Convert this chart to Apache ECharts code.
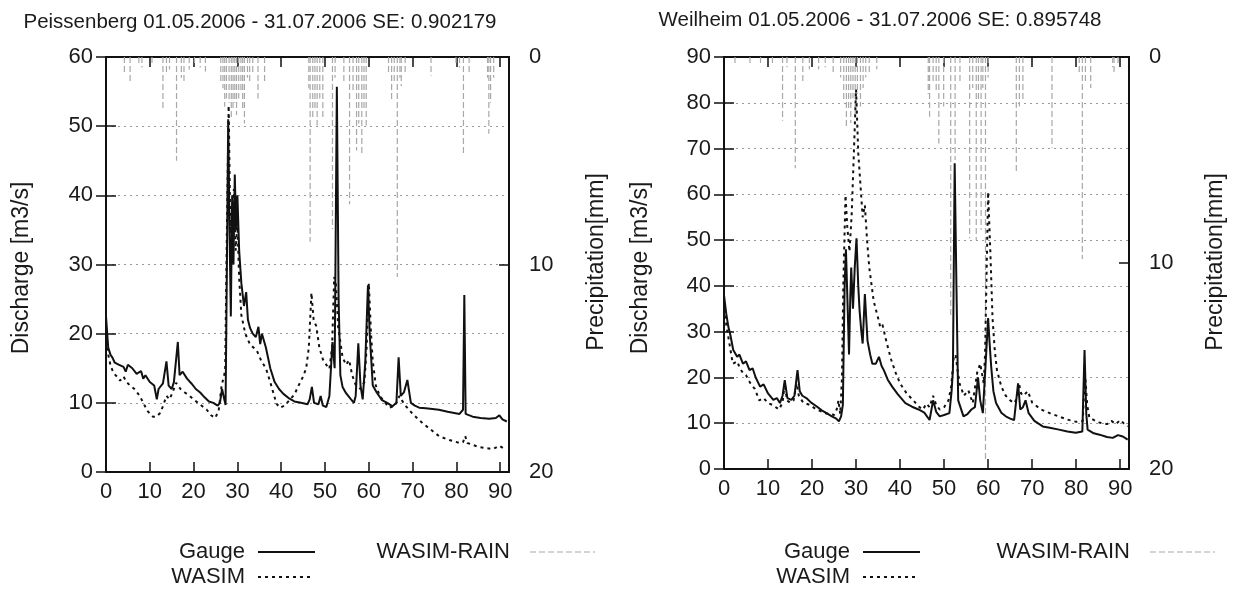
<!DOCTYPE html>
<html>
<head>
<meta charset="utf-8">
<script src="https://cdn.jsdelivr.net/npm/echarts@6/dist/echarts.min.js"></script>
<style>
html,body{margin:0;padding:0;background:#fff;}
#c{width:1236px;height:590px;}
</style>
</head>
<body>
<div id="c"></div>
<script>
// ---------- data ----------
const X_TICKS = [0,10,20,30,40,50,60,70,80,90];
const TITLE_LEFT = 'Peissenberg 01.05.2006 - 31.07.2006 SE: 0.902179';
const TITLE_RIGHT = 'Weilheim 01.05.2006 - 31.07.2006 SE: 0.895748';
const Y_NAME = 'Discharge [m3/s]';
const Y2_NAME = 'Precipitation[mm]';
const LEGEND_NAMES = ['Gauge','WASIM','WASIM-RAIN'];

// Peissenberg: [day, discharge m3/s]
const P_GAUGE = [[0,22.5],[0.5,18],[1,17],[1.5,16.5],[2,15.8],[3,15.5],[4,15.2],[4.5,14.5],[5,15.5],[6,15],[7,14.2],[8,14.6],[8.5,13.5],[9,14],[10,13],[11,12.5],[11.6,10.5],[12,12],[13,12.8],[13.8,16],[14.3,12.5],[15,12],[15.5,13],[16.4,18.8],[16.8,14],[17.5,14.5],[18.5,13.5],[19.5,12.8],[20.5,12],[21.5,11.5],[22.5,10.8],[23.5,10.2],[24.5,10],[25.5,9.6],[26,10],[26.5,12],[27,10.5],[27.3,9.7],[27.6,30],[27.9,51],[28.2,35],[28.5,22.5],[28.8,40],[29.1,30],[29.4,43],[29.7,35],[30,40],[30.4,32],[30.9,27.3],[31.5,24],[32,26],[32.4,22],[32.9,20.8],[33.5,20],[34.2,19.5],[34.8,21],[35.2,18.5],[35.6,20],[36.5,18],[37.5,15],[38.5,13],[39.5,12],[40.5,11.3],[41.9,10.6],[43,10.2],[44.5,10],[46,9.8],[46.5,10.5],[47,12.3],[47.5,10],[48.5,9.8],[49,11],[49.5,9.6],[50.3,9.4],[51,11],[51.7,18.8],[52.2,15],[52.7,55.7],[53.1,25],[53.5,14],[54,12.3],[54.8,11.4],[55.8,10.6],[56.6,10],[57,11],[57.6,18.6],[58.1,12.5],[58.6,10.5],[59.2,16],[59.8,27],[60.2,20],[60.9,12.5],[61.8,11.5],[63,10.4],[64.2,10],[65.4,9.5],[66.3,10],[66.8,16.6],[67.3,11],[68,11.5],[68.8,13.3],[69.6,10],[70.5,9.6],[71.5,9.3],[73,9.2],[74.5,9.1],[76,9],[78,8.7],[80.7,8.4],[81.5,9],[81.8,25.6],[82.1,8.4],[83.7,8],[85.5,7.8],[87.5,7.7],[89,7.8],[89.8,8.2],[90.5,7.6],[91.5,7.3]];
const P_WASIM = [[0,21],[0.5,17],[1,15.5],[1.7,14.3],[2.5,13.8],[3.2,13.2],[4,13.8],[4.7,13],[5.5,12.5],[6.5,12],[7.7,11],[8.5,10],[9.5,8.8],[10.7,8],[11.5,8],[12.3,8.5],[13,9.5],[13.8,11],[14.5,10.5],[15.2,11.5],[16,12.9],[17,12],[18,11.5],[19.1,11],[20,10.5],[21,10],[22,9.5],[23,9],[24,8.2],[24.9,7.8],[25.7,8.8],[26.4,12.5],[27.2,14.6],[27.6,35],[28,53],[28.4,34.5],[28.8,38],[29.2,40.9],[29.6,32],[30,36],[30.4,28],[30.9,22.7],[31.8,20],[32.9,18.4],[34.4,17.6],[35.5,16],[36.5,15],[37.5,13],[38.9,9.9],[39.7,9.3],[40.8,9.6],[41.9,10.4],[43,11.2],[44.2,12.8],[45,13.8],[45.7,15],[46.3,18],[46.9,25.9],[47.4,22],[48,21.1],[48.7,18],[49.5,16.3],[50.3,15.5],[51,14.9],[51.6,18],[52.1,28.2],[52.5,27],[53,21],[54,16.6],[54.8,15.5],[55.5,16.2],[56.2,14],[57,12.6],[58.1,12],[59,13],[59.5,18],[60,27.3],[60.5,20],[60.9,16],[61.6,12.5],[62.5,11],[64,9.8],[64.7,9.3],[66,9.6],[67,11],[67.7,10.2],[68.5,9.5],[70,8.4],[72.2,7.1],[74,6.2],[76,5.2],[78,4.7],[80.7,4.2],[81.5,4.3],[82,5.2],[82.5,4.2],[85.2,3.6],[88.3,3.3],[89.8,3.8],[91.3,3.2]];
// Peissenberg: [day, precipitation mm]
const P_RAIN = [[4.2,0.8],[5.5,1.2],[7.5,0.3],[8.2,0.5],[10.5,0.4],[13,2.6],[13.8,0.8],[14.5,0.6],[16.1,5.0],[17.2,1.0],[17.8,1.2],[19,0.6],[20.2,0.4],[21.5,0.5],[22.7,0.7],[26.2,1.2],[26.7,1.5],[27.1,2.4],[27.5,2.0],[28.1,2.2],[28.6,3.0],[29,2.5],[29.4,2.2],[29.8,2.8],[30.3,2.0],[30.8,1.6],[31.2,2.5],[31.6,3.2],[32.3,1.0],[32.8,1.3],[33.5,0.8],[34.7,2.0],[36.2,1.3],[46.3,1.5],[46.6,8.9],[47.2,3.0],[47.7,2.6],[48.2,3.3],[48.8,2.0],[49.5,3.0],[51.7,8.3],[52.3,1.0],[54.3,1.2],[55.6,7.1],[56.4,1.6],[57.2,4.5],[57.7,3.2],[58.4,4.7],[58.9,2.5],[59.4,3.3],[64.5,0.8],[65.2,2.1],[65.8,1.2],[66.5,10.6],[67.1,1.0],[67.4,1.4],[68.3,0.8],[74.2,0.9],[79.9,0.4],[80.7,0.5],[81.6,4.7],[82.9,0.8],[87.1,1.0],[87.4,3.7],[87.8,2.2],[88.5,1.0]];

// Weilheim
const W_GAUGE = [[0,38],[0.5,34],[1,31],[1.4,29.5],[2.1,26],[3,24.5],[3.5,25],[4.3,23],[5,23.5],[5.8,21.6],[6.5,22],[7.2,20],[8.2,18],[9,18.5],[10,16.5],[11.2,15.1],[12,15.5],[12.7,14.4],[13.3,16],[13.8,19.4],[14.4,15.5],[15.3,15.1],[16,16],[16.7,21.6],[17.2,17],[17.8,16],[18.7,15.5],[19.8,14.5],[21,13.7],[22.2,12.8],[23.3,12.2],[24.5,11.5],[25.5,11],[26.1,10.4],[26.6,11.5],[27,14],[27.4,40],[27.7,48],[28.1,35],[28.4,25],[28.7,38],[28.9,44],[29.3,35],[29.7,44],[30.1,50.4],[30.5,40],[30.8,34.6],[31.2,30],[31.5,27.4],[32,38.2],[32.6,28],[33.2,25],[33.7,23],[34.5,23],[35.2,24.5],[35.8,22.5],[36.3,21.6],[37.2,19.5],[38.2,18],[39.5,16.3],[41.2,14.4],[42.7,13.6],[44.2,13],[45.5,12.3],[46.7,10.7],[47.5,15],[48.2,12.5],[49,11.5],[50,11.8],[51.2,12.2],[51.7,17],[52,21.6],[52.4,66.8],[52.8,40],[53.2,15],[54.4,11.5],[55.3,12],[56.2,13],[57,13.5],[57.7,20],[58.2,15],[58.8,12.2],[59.6,26],[60,33],[60.3,28],[60.7,22.3],[61.2,17],[61.8,14.4],[63,12.3],[64,11.5],[65,11],[65.9,10.7],[66.8,18.7],[67.3,13],[67.9,13.5],[68.5,15],[69.2,12.2],[70.5,10.5],[72.4,9.3],[74,9],[76.1,8.6],[78,8.2],[79.9,7.9],[81.4,8.2],[81.9,26],[82.3,12],[82.6,8.6],[84,7.8],[85.3,7.5],[87,7],[88.3,6.8],[89.5,7.4],[90.6,7.1],[91.7,6.4]];
const W_WASIM = [[0,35],[0.6,31],[1.3,27],[2,23],[3,23.5],[3.6,22],[4.3,21],[5,20.5],[6,18.7],[7,17.5],[8,15],[9,15.5],[10,14.4],[11,14],[12.5,13],[13.3,14.5],[13.8,18.7],[14.3,15],[15,14.5],[15.8,15],[16.5,18.7],[17,16],[18,14.5],[19.5,14],[21,13],[23,12.2],[24,12],[25,11.8],[25.6,13],[26,15],[26.4,12],[26.8,20],[27.1,40],[27.6,59.8],[28,53],[28.5,47.5],[29,55.5],[29.5,69],[30,82.9],[30.5,69],[31,62],[31.5,55],[32,57.6],[32.5,50],[33,44],[34,36.7],[35,33],[35.5,31],[36,31.5],[37,27.4],[38,23.8],[39,21],[40,18.7],[41.5,16.5],[43,15],[44.4,13.5],[45.2,13],[46,14.3],[46.7,13.5],[47.5,16],[48.2,14],[49,13],[50,13.5],[51,15],[51.6,18],[52.2,24.5],[52.6,25],[53,22],[53.5,18.7],[54.5,16],[55.5,17.2],[56.5,14.4],[57.5,21],[58.2,23],[59,18.7],[59.3,25],[59.6,40],[60,60.5],[60.5,47.5],[61,33],[61.5,26],[62,21.6],[63,18],[64,16],[65,15],[66,14.4],[66.5,15.5],[67,18.7],[67.5,16.5],[68,16],[69,17],[70,14.5],[72,13],[74,12.2],[76,11.5],[78,10.8],[80,10.3],[81.5,10.5],[82,21],[82.5,14],[83,11.2],[85,10.2],[87,9.8],[88,10.5],[89,9.8],[90,10.7],[90.8,10],[91.7,9.3]];
const W_RAIN = [[2.5,0.3],[5.9,0.3],[8.3,0.4],[11,0.3],[13.3,3.1],[14.3,0.5],[16.2,5.4],[17.9,1.2],[19.4,0.6],[21.5,0.6],[23,0.5],[24.8,0.8],[26.5,1.0],[27.2,2.2],[27.8,3.5],[28.3,2.6],[28.8,3.2],[29.3,2.0],[29.8,3.0],[30.3,1.8],[31,2.4],[31.6,1.5],[32.2,1.0],[33,0.8],[34.7,0.6],[46.4,1.8],[46.7,2.9],[47.5,1.3],[48.2,1.6],[48.8,4.2],[49.9,2.4],[51.5,12.6],[52.5,5.0],[53.6,1.2],[55.8,8.8],[56.5,1.5],[57.3,8.9],[57.8,2.2],[58.4,8.4],[58.8,1.5],[59.4,19.6],[60,1.0],[66.4,5.6],[67.1,2.4],[67.9,2.1],[74.5,4.4],[80.7,0.8],[81.4,9.8],[82.1,1.2],[83.3,1.5],[88.3,0.5],[88.6,0.8],[89.5,0.3]];

// ---------- chart ----------
const FONT = 'Liberation Sans, Arial, sans-serif';
const TXT = '#1a1a1a';
const chart = echarts.init(document.getElementById('c'), null, {renderer:'canvas'});

function xAxes(gridIndex){
  return [
    {gridIndex, type:'value', position:'bottom', min:0, max:92, interval:10,
     axisLine:{show:true, onZero:false, lineStyle:{color:'#111', width:2}},
     axisTick:{show:true, inside:true, length:10, customValues:X_TICKS, lineStyle:{color:'#111', width:1.5}},
     axisLabel:{show:true, customValues:X_TICKS, margin:9, fontSize:22, fontFamily:FONT, color:TXT},
     splitLine:{show:false}},
    {gridIndex, type:'value', position:'top', min:0, max:92, interval:10,
     axisLine:{show:true, onZero:false, lineStyle:{color:'#111', width:2}},
     axisTick:{show:true, inside:true, length:10, customValues:X_TICKS, lineStyle:{color:'#111', width:1.5}},
     axisLabel:{show:false}, splitLine:{show:false}}
  ];
}
function yAxes(gridIndex, ymax){
  return [
    {gridIndex, type:'value', position:'left', min:0, max:ymax, interval:10,
     axisLine:{show:true, onZero:false, lineStyle:{color:'#111', width:2}},
     axisTick:{show:true, inside:true, length:10, lineStyle:{color:'#111', width:1.5}},
     axisLabel:{margin:13, fontSize:22, fontFamily:FONT, color:TXT},
     splitLine:{show:true, lineStyle:{color:'#9a9a9a', width:1, type:[2,4]}}},
    {gridIndex, type:'value', position:'right', inverse:true, min:0, max:20, interval:10,
     axisLine:{show:true, onZero:false, lineStyle:{color:'#111', width:2}},
     axisTick:{show:true, inside:true, length:10, lineStyle:{color:'#111', width:1.5}},
     axisLabel:{margin:20, fontSize:22, fontFamily:FONT, color:TXT},
     splitLine:{show:false}},
    {gridIndex, type:'value', position:'right', min:0, max:ymax, interval:10,
     axisLine:{show:false},
     axisTick:{show:true, inside:true, length:10, lineStyle:{color:'#111', width:1.5}},
     axisLabel:{show:false}, splitLine:{show:false}}
  ];
}
function rainSeries(data, xi, yi){
  return {type:'custom', xAxisIndex:xi, yAxisIndex:yi, data, z:1,
    renderItem:function(params, api){
      const x = api.value(0), v = api.value(1);
      const p0 = api.coord([x, 0]);
      const p1 = api.coord([x, v]);
      return {type:'line', shape:{x1:p0[0], y1:p0[1], x2:p1[0], y2:p1[1]},
        style:{stroke:'#a8a8a8', lineWidth:1.2, lineDash:[6,3]}};
    }};
}
function lineSeries(name, data, xi, yi, dotted){
  return {type:'line', name, xAxisIndex:xi, yAxisIndex:yi, data, showSymbol:false, symbol:'none', z:3,
    lineStyle:{color:'#111', width:2, type: dotted ? [3,4] : 'solid'}};
}

function vText(text, x, y){
  return {type:'text', x, y, rotation:Math.PI/2,
    style:{text, font:'23px '+FONT, fill:TXT, textAlign:'center', textVerticalAlign:'middle'}};
}
function hText(text, x, y, align, size){
  return {type:'text', x, y,
    style:{text, font:(size||22)+'px '+FONT, fill:TXT, textAlign:align, textVerticalAlign:'middle'}};
}
function seg(x1, y, x2, stroke, width, dash){
  return {type:'line', shape:{x1, y1:y, x2, y2:y},
    style:{stroke, lineWidth:width, lineDash:dash || null}};
}
function legend(gx, rx){
  return [
    hText(LEGEND_NAMES[0], gx, 552, 'right'),
    seg(gx+13, 552, gx+70, '#111', 2),
    hText(LEGEND_NAMES[1], gx, 577, 'right'),
    seg(gx+13, 577, gx+65, '#111', 2, [3,4]),
    hText(LEGEND_NAMES[2], rx, 552, 'right'),
    seg(rx+20, 552, rx+85, '#a8a8a8', 1.2, [6,3])
  ];
}

const option = {
  animation:false,
  backgroundColor:'#fff',
  grid:[
    {left:106, top:57, width:403, height:415, show:false},
    {left:724, top:57, width:405, height:412, show:false}
  ],
  xAxis:[...xAxes(0), ...xAxes(1)],
  yAxis:[...yAxes(0,60), ...yAxes(1,90)],
  series:[
    rainSeries(P_RAIN, 0, 1),
    lineSeries('WASIM', P_WASIM, 0, 0, true),
    lineSeries('Gauge', P_GAUGE, 0, 0, false),
    rainSeries(W_RAIN, 2, 4),
    lineSeries('WASIM', W_WASIM, 2, 3, true),
    lineSeries('Gauge', W_GAUGE, 2, 3, false)
  ],
  graphic:[
    hText(TITLE_LEFT, 260, 22, 'center', 20.5),
    hText(TITLE_RIGHT, 880, 20, 'center', 20.5),
    vText(Y_NAME, 22, 268),
    vText(Y2_NAME, 597, 262),
    vText(Y_NAME, 641, 268),
    vText(Y2_NAME, 1216, 262),
    ...legend(245, 510),
    ...legend(850, 1130)
  ]
};
chart.setOption(option);
</script>
</body>
</html>
